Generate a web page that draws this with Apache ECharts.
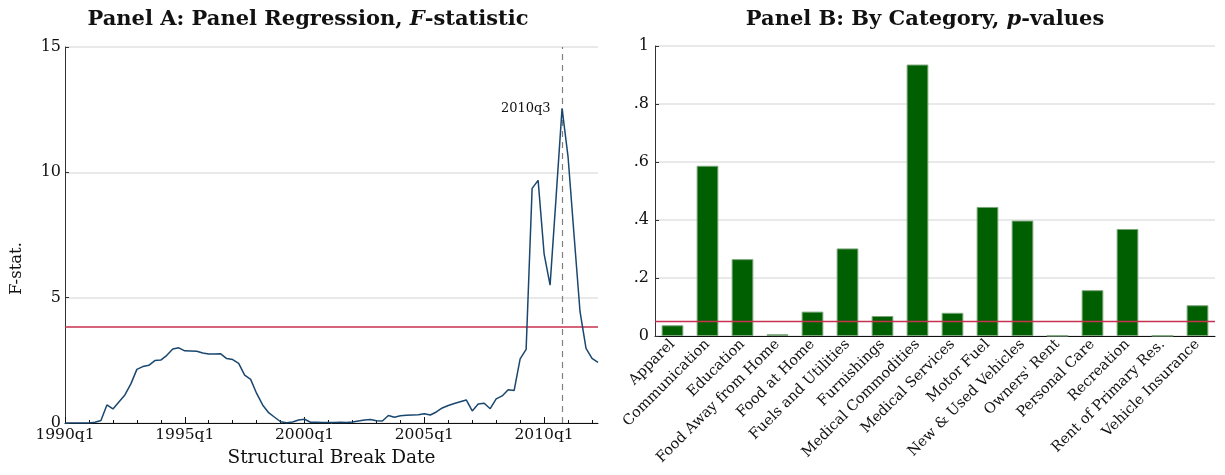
<!DOCTYPE html>
<html>
<head>
<meta charset="utf-8">
<script src="https://cdn.jsdelivr.net/npm/echarts@6/dist/echarts.min.js"></script>
<style>
html,body{margin:0;padding:0;background:#fff;}
#chart{width:1225px;height:475px;}
</style>
</head>
<body>
<div id="chart"></div>
<script>
// ---------- Panel A data ----------
// F-statistic by structural break date (quarter index 0 = 1990q1)
const fstat = [
  0, 0, 0, 0, 0, 0.03, 0.1, 0.72, 0.56, 0.84,
  1.12, 1.56, 2.14, 2.25, 2.3, 2.49, 2.51, 2.7, 2.95, 3.0,
  2.88, 2.87, 2.86, 2.79, 2.75, 2.75, 2.76, 2.57, 2.53, 2.38,
  1.91, 1.74, 1.18, 0.72, 0.41, 0.23, 0.05, 0.01, 0.04, 0.12,
  0.15, 0.03, 0.03, 0.02, 0.02, 0.02, 0.03, 0.02, 0.04, 0.08,
  0.12, 0.14, 0.09, 0.08, 0.3, 0.23, 0.29, 0.31, 0.32, 0.33,
  0.37, 0.32, 0.44, 0.6, 0.7, 0.78, 0.85, 0.92, 0.48, 0.76,
  0.79, 0.57, 0.96, 1.08, 1.33, 1.3, 2.56, 2.94, 9.36, 9.68,
  6.75, 5.5, 9.0, 12.55, 10.62, 7.5, 4.44, 2.98, 2.58, 2.42
];
const xMajorIdx = [0, 20, 40, 60, 80];
const xMajorLabels = ['1990q1', '1995q1', '2000q1', '2005q1', '2010q1'];
const xMinorIdx = [4, 8, 12, 16, 24, 28, 32, 36, 44, 48, 52, 56, 64, 68, 72, 76, 84, 88];
const fCrit = 3.85;
const peakIdx = 83;
const peakLabel = '2010q3';

// ---------- Panel B data ----------
const categories = ['Apparel', 'Communication', 'Education', 'Food Away from Home', 'Food at Home',
  'Fuels and Utilities', 'Furnishings', 'Medical Commodities', 'Medical Services', 'Motor Fuel',
  'New & Used Vehicles', "Owners' Rent", 'Personal Care', 'Recreation', 'Rent of Primary Res.',
  'Vehicle Insurance'];
const pvalues = [0.037, 0.587, 0.265, 0.006, 0.084, 0.302, 0.069, 0.936, 0.080, 0.445,
  0.398, 0.001, 0.158, 0.369, 0.001, 0.106];
const pCrit = 0.05;

const FONT = '"DejaVu Serif", "Liberation Serif", serif';
const chart = echarts.init(document.getElementById('chart'), null, {renderer: 'canvas'});

const lineData = fstat.map((v, i) => [i, v]);
const lastIdx = fstat.length - 1;

const option = {
  backgroundColor: '#fff',
  animation: false,
  textStyle: {fontFamily: FONT},
  title: [
    {
      text: '{b|Panel A: Panel Regression, }{i|F}{b|-statistic}',
      left: 303, top: 4, textAlign: 'center',
      textStyle: {
        rich: {
          b: {fontFamily: FONT, fontWeight: 'bold', fontSize: 21, color: '#111'},
          i: {fontFamily: FONT, fontStyle: 'italic', fontSize: 21, color: '#111'}
        }
      }
    },
    {
      text: '{b|Panel B: By Category, }{i|p}{b|-values}',
      left: 920, top: 4, textAlign: 'center',
      textStyle: {
        rich: {
          b: {fontFamily: FONT, fontWeight: 'bold', fontSize: 21, color: '#111'},
          i: {fontFamily: FONT, fontStyle: 'italic', fontSize: 21, color: '#111'}
        }
      }
    }
  ],
  graphic: [
    {
      type: 'text', left: 8, top: 242, rotation: Math.PI / 2,
      style: {text: 'F-stat.', font: '16.5px ' + FONT, fill: '#111'}
    }
  ],
  grid: [
    {left: 65, right: 627, top: 47, bottom: 52},
    {left: 655, right: 10, top: 46, bottom: 139}
  ],
  xAxis: [
    {
      type: 'value', gridIndex: 0, min: 0, max: lastIdx,
      name: 'Structural Break Date', nameLocation: 'middle', nameGap: 26,
      nameTextStyle: {fontFamily: FONT, fontSize: 18.5, color: '#111'},
      axisLine: {show: true, onZero: false, lineStyle: {color: '#111', width: 1}},
      axisTick: {show: true, inside: true, length: 6, customValues: xMajorIdx, lineStyle: {color: '#111'}},
      axisLabel: {
        customValues: xMajorIdx, fontFamily: FONT, fontSize: 15.5, color: '#111', margin: 4,
        formatter: v => { const k = xMajorIdx.indexOf(v); return k >= 0 ? xMajorLabels[k] : ''; }
      },
      splitLine: {show: false}
    },
    {
      type: 'value', gridIndex: 0, min: 0, max: lastIdx, position: 'bottom',
      axisLine: {show: false, onZero: false},
      axisTick: {show: true, inside: true, length: 3, customValues: xMinorIdx, lineStyle: {color: '#111'}},
      axisLabel: {show: false},
      splitLine: {show: false}
    },
    {
      type: 'category', gridIndex: 1, data: categories,
      axisLine: {show: true, lineStyle: {color: '#111', width: 1}},
      axisTick: {show: false},
      axisLabel: {
        interval: 0, rotate: 45, fontFamily: FONT, fontSize: 14.5, color: '#111', margin: 6
      },
      splitLine: {show: false}
    }
  ],
  yAxis: [
    {
      type: 'value', gridIndex: 0, min: 0, max: 15, interval: 5,
      axisLine: {show: true, lineStyle: {color: '#333', width: 1}},
      axisTick: {show: true, inside: true, length: 4, lineStyle: {color: '#333'}},
      axisLabel: {fontFamily: FONT, fontSize: 16, color: '#111', margin: 4},
      splitLine: {show: true, lineStyle: {color: '#e2e2e2', width: 1.5}}
    },
    {
      type: 'value', gridIndex: 1, min: 0, max: 1, interval: 0.2,
      axisLine: {show: true, lineStyle: {color: '#333', width: 1}},
      axisTick: {show: true, inside: true, length: 4, lineStyle: {color: '#333'}},
      axisLabel: {
        fontFamily: FONT, fontSize: 16, color: '#111', margin: 6,
        formatter: v => (v === 0 ? '0' : (Math.abs(v - 1) < 1e-9 ? '1' : v.toFixed(1).replace(/^0/, '')))
      },
      splitLine: {show: true, lineStyle: {color: '#e2e2e2', width: 1.5}}
    }
  ],
  series: [
    {
      type: 'line', xAxisIndex: 0, yAxisIndex: 0, data: lineData,
      showSymbol: false, symbol: 'none',
      lineStyle: {color: '#1a476f', width: 1.5},
      z: 5,
      markLine: {
        silent: true, symbol: 'none', animation: false,
        label: {show: false},
        data: [
          {yAxis: fCrit, lineStyle: {color: '#c7304f', width: 1.5, type: 'solid'}},
          {xAxis: peakIdx, lineStyle: {color: '#808080', width: 1.2, type: [6, 5]}}
        ]
      },
      markPoint: {
        silent: true, symbol: 'circle', symbolSize: 1,
        itemStyle: {color: 'rgba(0,0,0,0)'},
        label: {
          show: true, position: 'left', distance: 11, formatter: peakLabel,
          fontFamily: FONT, fontSize: 13, color: '#111'
        },
        data: [{coord: [peakIdx, fstat[peakIdx]]}]
      }
    },
    {
      type: 'bar', xAxisIndex: 2, yAxisIndex: 1, data: pvalues,
      barCategoryGap: '38%',
      itemStyle: {color: '#005f00', borderColor: '#7aa57a', borderWidth: 1},
      z: 3,
      markLine: {
        silent: true, symbol: 'none', animation: false,
        label: {show: false},
        data: [{yAxis: pCrit, lineStyle: {color: '#c7304f', width: 1.3, type: 'solid'}}]
      }
    }
  ]
};
chart.setOption(option);
</script>
</body>
</html>
